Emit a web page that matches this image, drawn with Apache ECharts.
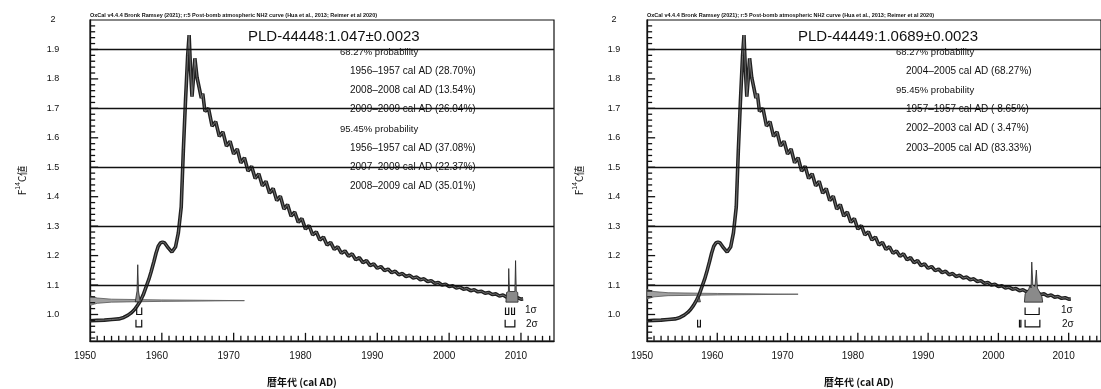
<!DOCTYPE html>
<html><head><meta charset="utf-8">
<script src="https://cdn.jsdelivr.net/npm/echarts@6/dist/echarts.min.js"></script>
<style>html,body{margin:0;padding:0;background:#fff}#c{width:1101px;height:389px}</style>
</head><body><div id="c"></div>
<script>
// ---------------- data ----------------
const xTickLabels = [1950, 1960, 1970, 1980, 1990, 2000, 2010];
const yTickLabels = [1.0, 1.1, 1.2, 1.3, 1.4, 1.5, 1.6, 1.7, 1.8, 1.9, 2.0];
const refLines = [1.1, 1.3, 1.5, 1.7, 1.9];

// Post-bomb NH2 calibration curve: [year AD, F14C]
const nh2Curve = [
 [1950.0,0.979],[1951.0,0.980],[1952.0,0.981],[1953.0,0.983],[1954.0,0.985],[1954.7,0.990],
 [1955.3,0.998],[1955.8,1.007],[1956.2,1.017],[1956.6,1.030],[1957.0,1.046],[1957.4,1.066],
 [1957.8,1.093],[1958.2,1.120],[1958.5,1.144],[1958.9,1.180],[1959.2,1.209],[1959.5,1.232],
 [1959.8,1.243],[1960.1,1.246],[1960.4,1.243],[1960.9,1.226],[1961.4,1.212],[1961.9,1.229],
 [1962.3,1.277],[1962.7,1.365],[1963.0,1.560],[1963.3,1.728],[1963.6,1.880],[1963.8,1.949],
 [1964.0,1.830],[1964.2,1.740],[1964.4,1.800],[1964.6,1.870],[1964.9,1.805],[1965.2,1.770],
 [1965.5,1.735],[1965.7,1.750],[1966.0,1.690],[1966.5,1.700],[1967.0,1.640],[1967.5,1.655],
 [1968.0,1.605],[1968.5,1.620],[1969.0,1.572],[1969.5,1.588],[1970.0,1.545],[1970.5,1.562],
 [1971.0,1.515],[1971.5,1.532],[1972.0,1.487],[1972.5,1.503],[1973.0,1.462],[1973.5,1.478],
 [1974.0,1.437],[1974.5,1.452],[1975.0,1.412],[1975.5,1.428],[1976.0,1.387],[1976.5,1.402],
 [1977.0,1.358],[1977.5,1.373],[1978.0,1.334],[1978.5,1.348],[1979.0,1.313],[1979.5,1.326],
 [1980.0,1.290],[1980.5,1.302],[1981.0,1.270],[1981.5,1.281],[1982.0,1.253],[1982.5,1.263],
 [1983.0,1.236],[1983.5,1.245],[1984.0,1.221],[1984.5,1.230],[1985.0,1.208],[1985.5,1.216],
 [1986.0,1.198],[1986.5,1.206],[1987.0,1.186],[1987.5,1.193],[1988.0,1.176],[1988.5,1.183],
 [1989.0,1.166],[1989.5,1.172],[1990.0,1.157],[1990.5,1.163],[1991.0,1.149],[1991.5,1.154],
 [1992.0,1.142],[1992.5,1.147],[1993.0,1.135],[1993.5,1.139],[1994.0,1.129],[1994.5,1.133],
 [1995.0,1.124],[1995.5,1.127],[1996.0,1.118],[1996.5,1.121],[1997.0,1.112],[1997.5,1.115],
 [1998.0,1.106],[1998.5,1.109],[1999.0,1.100],[1999.5,1.103],[2000.0,1.095],[2000.5,1.098],
 [2001.0,1.090],[2001.5,1.093],[2002.0,1.086],[2002.5,1.088],[2003.0,1.081],[2003.5,1.084],
 [2004.0,1.077],[2004.5,1.079],[2005.0,1.072],[2005.5,1.075],[2006.0,1.068],[2006.5,1.070],
 [2007.0,1.063],[2007.5,1.066],[2008.0,1.059],[2008.5,1.061],[2009.0,1.055],[2009.5,1.057],
 [2010.0,1.052],[2010.3,1.053]
];

// Sample measurements
const sampleIds = ['PLD-44448', 'PLD-44449'];
const sampleF14C = [1.047, 1.0689];
const sampleErr = [0.0023, 0.0023];

// Measurement distribution drawn along the F14C axis: [year extent, offset from value]
const measProfile = [[1950.0,-0.016],[1951.0,-0.009],[1953.0,-0.005],[1960.0,-0.0025],[1971.5,0.0],
                     [1960.0,0.0025],[1953.0,0.005],[1951.0,0.009],[1950.0,0.016]];

// Calibrated probability distributions (outline points [year, F14C])
const calDistA = [
 [[1956.3,1.043],[1956.55,1.080],[1956.65,1.169],[1956.75,1.080],[1957.0,1.043]],
 [[2007.9,1.042],[2008.0,1.075],[2008.25,1.078],[2008.3,1.156],[2008.4,1.078],[2009.15,1.078],
  [2009.25,1.183],[2009.35,1.078],[2009.55,1.075],[2009.6,1.042]]
];
const calDistB = [
 [[1957.2,1.043],[1957.4,1.062],[1957.6,1.043]],
 [[2003.7,1.042],[2003.8,1.070],[2004.3,1.085],[2004.5,1.100],[2004.65,1.090],[2004.75,1.178],
  [2004.9,1.100],[2005.2,1.095],[2005.4,1.151],[2005.55,1.090],[2005.9,1.075],[2006.2,1.060],[2006.3,1.042]]
];

// Highest probability ranges: [from, to, row]  row: 1 = 1 sigma, 2 = 2 sigma
const rangesA = [[1956.5,1957.2,1],[2007.85,2008.3,1],[2008.7,2009.1,1],
                 [1956.4,1957.2,2],[2007.8,2009.15,2]];
const rangesB = [[2003.8,2005.8,1],
                 [1957.2,1957.6,2],[2003.0,2003.2,2],[2003.8,2005.9,2]];

const textA = [
 ['68.27% probability', 0],
 ['1956\u20131957 cal AD (28.70%)', 1],
 ['2008\u20132008 cal AD (13.54%)', 1],
 ['2009\u20132009 cal AD (26.04%)', 1],
 ['95.45% probability', 0],
 ['1956\u20131957 cal AD (37.08%)', 1],
 ['2007\u20132009 cal AD (22.37%)', 1],
 ['2008\u20132009 cal AD (35.01%)', 1]
];
const textB = [
 ['68.27% probability', 0],
 ['2004\u20132005 cal AD (68.27%)', 1],
 ['95.45% probability', 0],
 ['1957\u20131957 cal AD ( 8.65%)', 1],
 ['2002\u20132003 cal AD ( 3.47%)', 1],
 ['2003\u20132005 cal AD (83.33%)', 1]
];
const headerText = 'OxCal v4.4.4 Bronk Ramsey (2021); r:5 Post-bomb atmospheric NH2 curve (Hua et al., 2013; Reimer et al 2020)';

// ---------------- chart ----------------
const FONT = '"Liberation Sans", Arial, sans-serif';
const INK = '#111';
const GRID_W = 464, GRID_H = 321;
const panels = [{left: 90, labelMargin: 37}, {left: 647, labelMargin: 33}];
const X_MIN = 1950, X_MAX = 2014.6, Y_MIN = 0.91, Y_MAX = 2.0;
const SIG_ROW = {1: 1.0, 2: 0.958};

// tick marks: [x, y, direction (0 = up from the x axis, 1 = right from the y axis), length px]
const EPS_X = 0.02, EPS_Y = 0.0005;
const tickMarks = [];
for (let y = X_MIN + 1; y < X_MAX; y++) tickMarks.push([y, Y_MIN + EPS_Y, 0, y % 10 ? 5 : 8]);
for (let k = 46; k < 100; k++) tickMarks.push([X_MIN + EPS_X, +(k * 0.02).toFixed(2), 1, k % 5 ? 5 : 8]);

const grid = [], xAxis = [], yAxis = [], series = [], title = [];

panels.forEach((p, i) => {
  grid.push({left: p.left, top: 20, width: GRID_W, height: GRID_H, show: true, borderColor: INK, borderWidth: 1.2, backgroundColor: 'rgba(255,255,255,0)'});
  xAxis.push({gridIndex: i, type: 'value', min: X_MIN, max: X_MAX, position: 'bottom',
    axisLine: {show: true, onZero: false, lineStyle: {color: INK, width: 1.3}},
    axisTick: {show: false},
    axisLabel: {customValues: xTickLabels, fontSize: 10, color: INK, margin: 10, fontFamily: FONT, padding: [0, 10, 0, 0], formatter: v => String(v)},
    splitLine: {show: false}});
  yAxis.push({gridIndex: i, type: 'value', min: Y_MIN, max: Y_MAX, position: 'left',
    axisLine: {show: true, onZero: false, lineStyle: {color: INK, width: 1.3}},
    axisTick: {show: false},
    axisLabel: {customValues: yTickLabels, fontSize: 9, color: INK, margin: p.labelMargin, fontFamily: FONT, align: 'center',
      formatter: v => (Math.abs(v - 2) < 1e-9 ? '2' : v.toFixed(1))},
    splitLine: {show: false},
    name: '{a|F}{s|14}{a|C値}', nameLocation: 'middle', nameRotate: 90, nameGap: 61,
    nameTextStyle: {rich: {a: {fontSize: 10, color: INK, fontFamily: '"Noto Sans CJK JP", ' + FONT, lineHeight: 14}, s: {fontSize: 7, color: INK, fontFamily: FONT, lineHeight: 14, verticalAlign: 'top'}}}});

  const xi = i, yi = i;
  const val = sampleF14C[i];
  // horizontal reference lines
  series.push({type: 'line', xAxisIndex: xi, yAxisIndex: yi, data: [], silent: true,
    markLine: {silent: true, symbol: 'none', label: {show: false}, lineStyle: {color: INK, width: 1.3, type: 'solid'},
      data: refLines.map(v => ({yAxis: v}))}});
  // inside tick marks, placed through the axis scales
  series.push({type: 'custom', xAxisIndex: xi, yAxisIndex: yi, silent: true, z: 10,
    data: tickMarks, encode: {x: 0, y: 1},
    renderItem: (params, api) => {
      const c = api.coord([api.value(0), api.value(1)]);
      const t = tickMarks[params.dataIndex];
      const e = t[2] === 0 ? [c[0], c[1] - t[3]] : [c[0] + t[3], c[1]];
      return {type: 'polyline', shape: {points: [[c[0], c[1]], e]}, style: {stroke: INK, lineWidth: 1.3, fill: null}};
    }});
  // measurement profile
  const mPts = measProfile.map(q => [q[0], val + q[1]]);
  series.push({type: 'custom', xAxisIndex: xi, yAxisIndex: yi, data: [[mPts[0][0], mPts[0][1]]], silent: true, z: 2,
    renderItem: (params, api) => ({type: 'polygon', shape: {points: mPts.map(q => api.coord(q))},
      style: {fill: '#a0a0a0', stroke: '#555', lineWidth: 0.8}})});
  // calibration curve: dark band with lighter core
  series.push({type: 'line', xAxisIndex: xi, yAxisIndex: yi, data: nh2Curve, showSymbol: false, silent: true, z: 3,
    lineStyle: {color: '#202020', width: 3.6}});
  series.push({type: 'line', xAxisIndex: xi, yAxisIndex: yi, data: nh2Curve, showSymbol: false, silent: true, z: 4,
    lineStyle: {color: '#707070', width: 1}});
  // calibrated distributions
  (i === 0 ? calDistA : calDistB).forEach(poly => {
    series.push({type: 'custom', xAxisIndex: xi, yAxisIndex: yi, data: [[poly[0][0], poly[0][1]]], silent: true, z: 5,
      renderItem: (params, api) => ({type: 'polygon', shape: {points: poly.map(q => api.coord(q))},
        style: {fill: '#8a8a8a', stroke: '#222', lineWidth: 0.8}})});
  });
  // range brackets
  series.push({type: 'custom', xAxisIndex: xi, yAxisIndex: yi, silent: true, z: 6,
    data: (i === 0 ? rangesA : rangesB).map(r => [r[0], r[1], SIG_ROW[r[2]]]),
    encode: {x: [0, 1], y: 2},
    renderItem: (params, api) => {
      const a = api.coord([api.value(0), api.value(2)]);
      const b = api.coord([api.value(1), api.value(2)]);
      return {type: 'polyline', shape: {points: [[a[0], a[1] - 7], [a[0], a[1]], [b[0], b[1]], [b[0], b[1] - 7]]},
        style: {stroke: INK, lineWidth: 1.2, fill: null}};
    }});

  // texts
  const L = p.left - 2;
  title.push({text: headerText, left: L + 2, top: 12, padding: 0,
    textStyle: {fontSize: 5.5, fontWeight: 'bold', color: INK, fontFamily: FONT}});
  title.push({text: sampleIds[i] + ':' + val + '\u00b1' + sampleErr[i].toFixed(4), left: L + (i === 0 ? 160 : 153), top: 29, padding: 0,
    textStyle: {fontSize: 15, fontWeight: 'normal', color: INK, fontFamily: FONT}});
  const lines = i === 0 ? textA : textB;
  lines.forEach((ln, k) => {
    title.push({text: ln[0], left: L + (i === 0 ? 252 : 251) + (ln[1] ? 10 : 0), top: 47 + k * 19.3 - (ln[1] ? 0.5 : 0), padding: 0,
      textStyle: {fontSize: ln[1] ? 10 : 9.5, fontWeight: 'normal', color: INK, fontFamily: FONT}});
  });
  title.push({text: '暦年代 (cal AD)', left: L + 179, top: 377, padding: 0,
    textStyle: {fontSize: 10, fontWeight: 'bold', color: INK, fontFamily: '"Noto Sans CJK JP", ' + FONT}});
  const sx = i === 0 ? 437 : 416;
  title.push({text: '1σ', left: L + sx, top: 305, padding: 0, textStyle: {fontSize: 10, color: INK, fontFamily: FONT, fontWeight: 'normal'}});
  title.push({text: '2σ', left: L + sx + 1, top: 319, padding: 0, textStyle: {fontSize: 10, color: INK, fontFamily: FONT, fontWeight: 'normal'}});
});

const chart = echarts.init(document.getElementById('c'), null, {renderer: 'canvas'});
chart.setOption({animation: false, backgroundColor: '#fff', title, grid, xAxis, yAxis, series});
</script></body></html>
